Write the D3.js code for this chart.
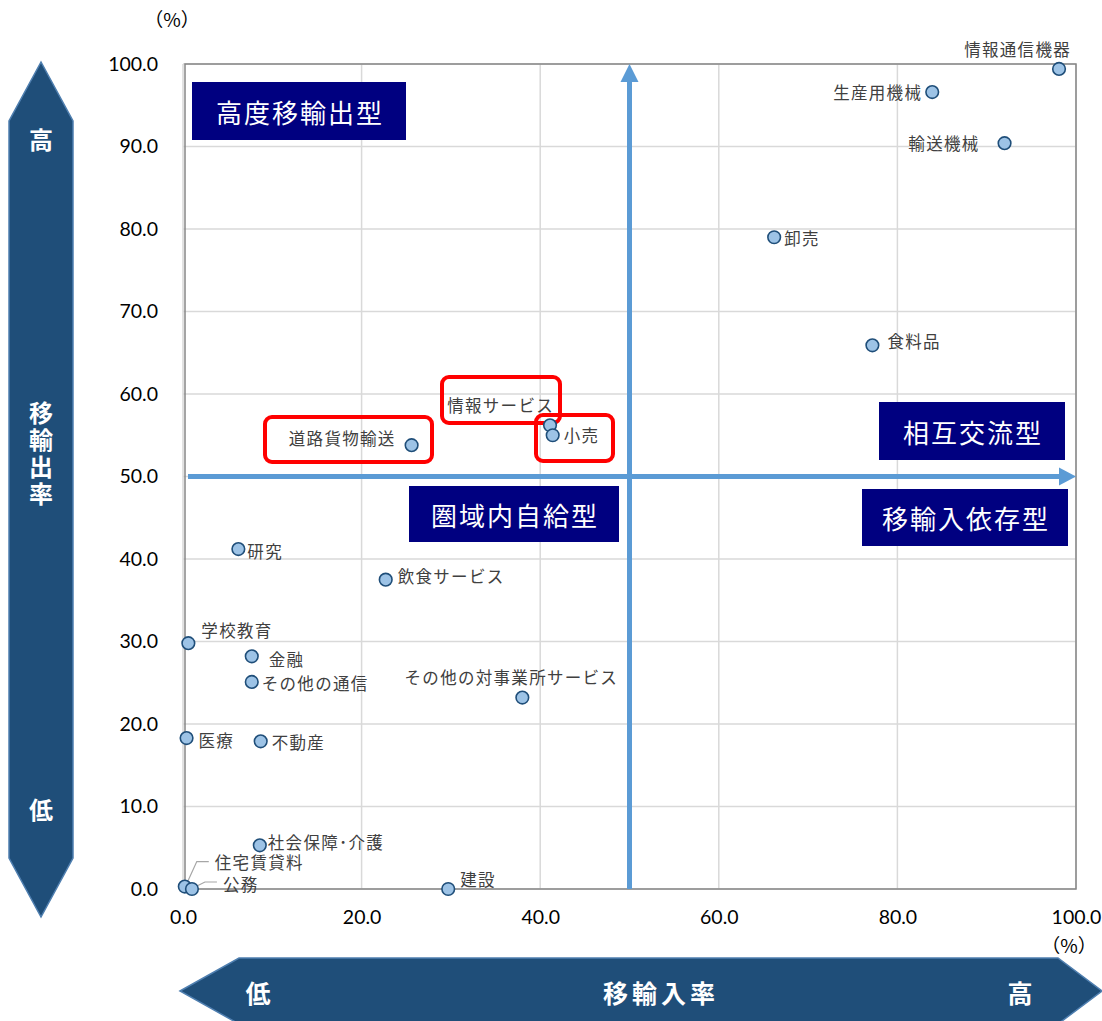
<!DOCTYPE html>
<html><head><meta charset="utf-8">
<script src="https://cdn.jsdelivr.net/npm/d3@7"></script>
<style>body{margin:0;background:#fff;}svg{display:block;}</style>
</head><body>
<script>
// ---- data ----
const categories = ["情報通信機器","生産用機械","輸送機械","卸売","食料品","情報サービス","小売","道路貨物輸送","研究","飲食サービス","学校教育","金融","その他の通信","その他の対事業所サービス","医療","不動産","社会保障･介護","住宅賃貸料","公務","建設"];
const importRate = [98.1,83.9,92.0,66.2,77.2,41.1,41.4,25.6,6.2,22.7,0.6,7.7,7.7,38.0,0.4,8.7,8.6,0.2,1.0,29.7];
const exportRate = [99.4,96.6,90.4,79.0,65.9,56.2,55.0,53.8,41.2,37.5,29.8,28.2,25.1,23.2,18.3,17.9,5.3,0.3,0.0,0.0];
const yTicks = [0,10,20,30,40,50,60,70,80,90,100];
const xTicks = [0,20,40,60,80,100];
const quadrantLabels = ["高度移輸出型","圏域内自給型","相互交流型","移輸入依存型"];
const highlighted = ["道路貨物輸送","情報サービス","小売"];

// ---- label layout (anchor, dx, dy) ----
const labelLayout = {
  "情報通信機器":["end",12,-20],"生産用機械":["end",-10,0],"輸送機械":["end",-25,0],
  "卸売":["start",10,1],"食料品":["start",15,-4],"情報サービス":["end",4,-20],
  "小売":["start",11,0],"道路貨物輸送":["end",-16,-7],"研究":["start",9,2],
  "飲食サービス":["start",12,-4],"学校教育":["start",13,-13],"金融":["start",17,3],
  "その他の通信":["start",10,1],"その他の対事業所サービス":["middle",-11,-21],
  "医療":["start",12,2],"不動産":["start",11,1],"社会保障･介護":["start",8,-3],
  "住宅賃貸料":["start",30,-25],"公務":["start",31,-5],"建設":["start",12,-10]
};
const leaders = {"住宅賃貸料":[[2,-3],[12,-25],[24,-25]], "公務":[[3,-2],[13,-7],[25,-7]]};

const W=1102,H=1021;
const svg=d3.select("body").append("svg").attr("width",W).attr("height",H);
const x=d3.scaleLinear().domain([0,100]).range([183,1076]);
const y=d3.scaleLinear().domain([0,100]).range([889,64]);
const CJK="'Noto Sans CJK JP','Noto Sans',sans-serif";
const NUM="Lato,'Open Sans',sans-serif";

// gridlines
svg.append("g").selectAll("line.h").data(yTicks).join("line")
  .attr("x1",x(0)).attr("x2",x(100)).attr("y1",d=>y(d)).attr("y2",d=>y(d))
  .attr("stroke","#d9d9d9").attr("stroke-width",1.5);
svg.append("g").selectAll("line.v").data(xTicks).join("line")
  .attr("x1",d=>x(d)).attr("x2",d=>x(d)).attr("y1",y(0)).attr("y2",y(100))
  .attr("stroke","#d9d9d9").attr("stroke-width",1.5);
// frame
svg.append("rect").attr("x",x(0)+2).attr("y",y(100)).attr("width",x(100)-x(0)-2).attr("height",y(0)-y(100))
  .attr("fill","none").attr("stroke","#868686").attr("stroke-width",1.5);

// axes
const yAxis=svg.append("g").attr("transform",`translate(${x(0)},0)`)
  .call(d3.axisLeft(y).tickValues(yTicks).tickFormat(d3.format(".1f")).tickSize(0).tickPadding(25));
const xAxis=svg.append("g").attr("transform",`translate(0,${y(0)})`)
  .call(d3.axisBottom(x).tickValues(xTicks).tickFormat(d3.format(".1f")).tickSize(0).tickPadding(21));
[yAxis,xAxis].forEach(a=>{a.select(".domain").remove();
  a.selectAll("text").attr("font-family",NUM).attr("font-size",19.5).attr("fill","#000");});
svg.append("text").attr("x",172).attr("y",27).attr("text-anchor","middle").attr("font-family",CJK).attr("font-size",19).attr("fill","#000").text("（%）");
svg.append("text").attr("x",1069).attr("y",953).attr("text-anchor","middle").attr("font-family",CJK).attr("font-size",19).attr("fill","#000").text("（%）");

// blue arrows
const blue="#5b9bd5";
svg.append("line").attr("x1",x(50)).attr("x2",x(50)).attr("y1",y(0)).attr("y2",y(100)+16).attr("stroke",blue).attr("stroke-width",5);
svg.append("path").attr("d",`M${x(50)},${y(100)} L${x(50)-9},${y(100)+18} L${x(50)+9},${y(100)+18}Z`).attr("fill",blue);
svg.append("line").attr("x1",x(0)+5).attr("x2",x(100)-16).attr("y1",y(50)).attr("y2",y(50)).attr("stroke",blue).attr("stroke-width",5);
svg.append("path").attr("d",`M${x(100)},${y(50)} L${x(100)-17},${y(50)-9} L${x(100)-17},${y(50)+9}Z`).attr("fill",blue);

// quadrant boxes
const qBoxes=[[192,82,214,58],[409,486,210,56],[879,402,186,58],[862,489,206,57]];
const qg=svg.append("g").selectAll("g").data(quadrantLabels).join("g");
qg.append("rect").attr("x",(d,i)=>qBoxes[i][0]).attr("y",(d,i)=>qBoxes[i][1]).attr("width",(d,i)=>qBoxes[i][2]).attr("height",(d,i)=>qBoxes[i][3]).attr("fill","#000080");
qg.append("text").attr("x",(d,i)=>qBoxes[i][0]+qBoxes[i][2]/2+1).attr("y",(d,i)=>qBoxes[i][1]+qBoxes[i][3]/2)
  .attr("text-anchor","middle").attr("dominant-baseline","central").attr("font-family",CJK).attr("font-size",26)
  .attr("letter-spacing",2).attr("fill","#fff").text(d=>d);

// highlight red boxes
const redBoxes={"道路貨物輸送":[265,417,167,45],"情報サービス":[442,377,118,46],"小売":[536,415,77,46]};
svg.append("g").selectAll("rect").data(highlighted).join("rect")
  .attr("x",d=>redBoxes[d][0]).attr("y",d=>redBoxes[d][1]).attr("width",d=>redBoxes[d][2]).attr("height",d=>redBoxes[d][3])
  .attr("rx",7).attr("fill","none").attr("stroke","#ff0000").attr("stroke-width",4);

// data
const pts=categories.map((c,i)=>({name:c,x:importRate[i],y:exportRate[i]}));
// leaders
svg.append("g").selectAll("polyline").data(pts.filter(p=>leaders[p.name])).join("polyline")
  .attr("points",p=>leaders[p.name].map(o=>[x(p.x)+o[0],y(p.y)+o[1]].join(",")).join(" "))
  .attr("fill","none").attr("stroke","#a6a6a6").attr("stroke-width",1.2);
svg.append("g").selectAll("circle").data(pts).join("circle")
  .attr("cx",d=>x(d.x)).attr("cy",d=>y(d.y)).attr("r",6.3)
  .attr("fill","#9dc3e6").attr("stroke","#1f4e79").attr("stroke-width",1.6);
svg.append("g").selectAll("text").data(pts).join("text")
  .attr("x",d=>x(d.x)+labelLayout[d.name][1]).attr("y",d=>y(d.y)+labelLayout[d.name][2])
  .attr("text-anchor",d=>labelLayout[d.name][0]).attr("dominant-baseline","central")
  .attr("font-family",CJK).attr("font-size",16.5).attr("letter-spacing",1.3).attr("fill","#404040").text(d=>d.name);

// vertical side arrow
const navy="#1f4e79", edge="#4f7fb0";
svg.append("path").attr("d","M41,62 L9,121 L9,858 L41,917 L73,858 L73,121Z").attr("fill",navy).attr("stroke",edge).attr("stroke-width",1.5);
svg.append("text").attr("x",41).attr("y",138).attr("text-anchor","middle").attr("dominant-baseline","central").attr("font-family",CJK).attr("font-weight","bold").attr("font-size",24).attr("fill","#fff").text("高");
svg.append("text").attr("x",41).attr("y",808).attr("text-anchor","middle").attr("dominant-baseline","central").attr("font-family",CJK).attr("font-weight","bold").attr("font-size",24).attr("fill","#fff").text("低");
svg.append("text").attr("x",41).attr("y",455).attr("text-anchor","middle").attr("dominant-baseline","central")
  .attr("font-family",CJK).attr("font-weight","bold").attr("font-size",24).attr("fill","#fff").attr("letter-spacing",3)
  .attr("style","writing-mode:vertical-rl;text-orientation:upright").text("移輸出率");

// bottom arrow
svg.append("path").attr("d","M180,991 L239,958 L1058,958 L1102,991 L1058,1024 L239,1024Z").attr("fill",navy).attr("stroke",edge).attr("stroke-width",1.5);
[["低",258,0],["移輸入率",659,4],["高",1020,0]].forEach(t=>svg.append("text").attr("x",t[1]+t[2]/2).attr("y",992).attr("text-anchor","middle").attr("dominant-baseline","central")
  .attr("font-family",CJK).attr("font-weight","bold").attr("font-size",25).attr("letter-spacing",t[2]).attr("fill","#fff").text(t[0]));
</script>
</body></html>
